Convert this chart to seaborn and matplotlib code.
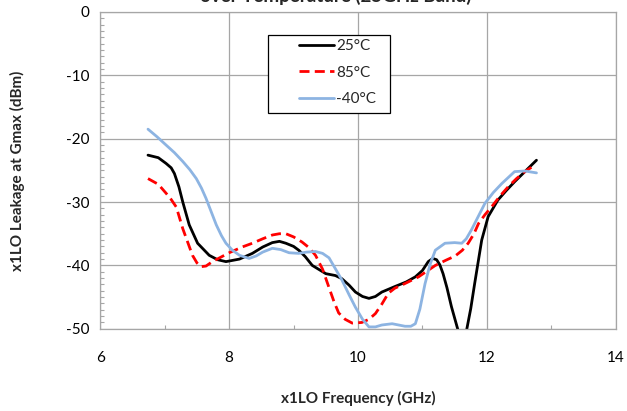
import matplotlib
matplotlib.use("Agg")
import matplotlib.pyplot as plt
import seaborn as sns
import pandas as pd
from matplotlib.ticker import MultipleLocator
from matplotlib.patches import Rectangle

# ---- data ----
freq_25 = [6.74, 6.90, 7.02, 7.10, 7.15, 7.22, 7.28, 7.38, 7.51, 7.69, 7.82, 7.95, 8.16, 8.36,
           8.52, 8.67, 8.78, 8.88, 9.00, 9.08, 9.18, 9.29, 9.50, 9.65, 9.75, 9.86, 9.96, 10.07,
           10.17, 10.27, 10.37, 10.58, 10.75, 10.89, 11.00, 11.09, 11.16, 11.22, 11.27, 11.32,
           11.38, 11.45, 11.56, 11.62, 11.68, 11.75, 11.81, 11.92, 12.02, 12.17, 12.30, 12.43,
           12.60, 12.77]
leak_25 = [-22.6, -23.0, -23.9, -24.6, -25.5, -27.6, -30.0, -33.6, -36.5, -38.4, -39.1, -39.4,
           -39.0, -38.1, -37.1, -36.4, -36.2, -36.5, -37.0, -37.6, -38.6, -40.0, -41.3, -41.6,
           -42.1, -43.1, -44.2, -44.9, -45.2, -44.9, -44.2, -43.3, -42.6, -41.8, -40.8, -39.4,
           -38.9, -39.1, -39.9, -41.3, -43.5, -46.5, -50.5, -52.5, -50.5, -46.8, -42.9, -36.0,
           -32.3, -29.7, -28.2, -26.8, -25.1, -23.4]

freq_85 = [6.74, 6.90, 7.02, 7.10, 7.18, 7.28, 7.43, 7.50, 7.56, 7.64, 7.74, 8.00, 8.20, 8.36,
           8.52, 8.67, 8.78, 8.88, 9.00, 9.13, 9.24, 9.34, 9.45, 9.55, 9.63, 9.70, 9.80, 9.91,
           10.06, 10.17, 10.27, 10.37, 10.47, 10.57, 10.68, 10.94, 11.20, 11.36, 11.51, 11.62,
           11.71, 11.80, 11.87, 11.97, 12.07, 12.20, 12.33, 12.46, 12.59, 12.74]
leak_85 = [-26.3, -27.2, -28.6, -29.6, -30.8, -34.2, -38.4, -39.6, -40.2, -40.1, -39.4, -38.0,
           -37.1, -36.5, -35.8, -35.2, -35.0, -35.0, -35.5, -36.3, -37.2, -38.4, -40.6, -43.5,
           -45.8, -47.5, -48.5, -49.1, -49.0, -48.5, -47.6, -46.1, -44.4, -43.6, -43.1, -41.8,
           -40.0, -39.2, -38.5, -37.6, -36.5, -35.0, -33.4, -32.0, -30.8, -29.1, -27.6, -26.3,
           -25.2, -24.2]

freq_m40 = [6.74, 6.88, 7.02, 7.15, 7.28, 7.39, 7.49, 7.57, 7.64, 7.72, 7.80, 7.88, 7.95, 8.05,
            8.16, 8.31, 8.42, 8.52, 8.67, 8.80, 8.93, 9.08, 9.20, 9.34, 9.45, 9.55, 9.63, 9.75,
            9.86, 9.96, 10.07, 10.17, 10.27, 10.37, 10.53, 10.63, 10.73, 10.82, 10.89, 10.96,
            11.04, 11.12, 11.20, 11.35, 11.50, 11.61, 11.68, 11.76, 11.87, 11.97, 12.10, 12.23,
            12.43, 12.59, 12.77]
leak_m40 = [-18.5, -19.7, -21.0, -22.2, -23.6, -24.9, -26.3, -27.8, -29.4, -31.5, -33.6, -35.3,
            -36.5, -37.6, -38.4, -38.9, -38.5, -37.9, -37.3, -37.5, -38.0, -38.1, -37.9, -37.8,
            -38.1, -38.8, -40.2, -42.3, -44.6, -46.6, -48.5, -49.7, -49.7, -49.4, -49.2, -49.4,
            -49.6, -49.6, -49.2, -46.9, -42.9, -39.8, -37.6, -36.5, -36.4, -36.5, -35.8, -34.4,
            -32.2, -30.2, -28.5, -27.1, -25.2, -25.1, -25.4]

series_names = ["25°C", "85°C", "-40°C"]
colors = {"25°C": "#000000", "85°C": "#FF0000", "-40°C": "#8DB4E2"}

df = pd.concat([
    pd.DataFrame({"f": freq_25, "v": leak_25, "T": "25°C"}),
    pd.DataFrame({"f": freq_85, "v": leak_85, "T": "85°C"}),
    pd.DataFrame({"f": freq_m40, "v": leak_m40, "T": "-40°C"}),
])

sns.set_theme(style="white")
plt.rcParams["font.family"] = ["Lato", "DejaVu Sans"]
plt.rcParams["axes.unicode_minus"] = False

fig = plt.figure(figsize=(6.27, 4.11), dpi=100)
ax = fig.add_axes([0.160, 0.200, 0.822, 0.771])

for name, ls in zip(series_names, ["-", (0, (3.6, 1.9)), "-"]):
    sub = df[df["T"] == name]
    sns.lineplot(data=sub, x="f", y="v", sort=False, ax=ax, color=colors[name],
                 linewidth=2.0, linestyle=ls, label=name, estimator=None)
for ln in ax.lines:
    ln.set_solid_joinstyle("round")
    ln.set_dash_joinstyle("round")

ax.set_xlim(6, 14)
ax.set_ylim(-50, 0)
ax.xaxis.set_major_locator(MultipleLocator(2))
ax.xaxis.set_minor_locator(MultipleLocator(1))
ax.yaxis.set_major_locator(MultipleLocator(10))
ax.yaxis.set_minor_locator(MultipleLocator(1))
ax.grid(True, which="major", color="#A6A6A6", linewidth=0.9)
ax.set_axisbelow(True)
for s in ax.spines.values():
    s.set_color("#A6A6A6")
    s.set_linewidth(0.9)
ax.tick_params(which="major", length=0, labelsize=11, colors="#000000", pad=8)
ax.tick_params(which="minor", direction="in", length=3, color="#A6A6A6", width=0.8,
               left=True, bottom=True)
ax.tick_params(axis="x", pad=16)

ax.set_xlabel("x1LO Frequency (GHz)", fontsize=11, fontweight="bold", labelpad=19)
ax.set_ylabel("x1LO Leakage at Gmax (dBm)", fontsize=11, fontweight="bold", labelpad=29)
fig.text(0.535, 0.988, "over Temperature (25GHz Band)", ha="center", va="bottom",
         fontsize=13.5, fontweight="bold")

ax.add_patch(Rectangle((0.325, 0.681), 0.2366, 0.2464, transform=ax.transAxes,
                       facecolor="white", edgecolor="#000000", linewidth=0.9, zorder=4))
leg = ax.legend(loc="upper left", bbox_to_anchor=(0.385, 0.914), frameon=False,
                fontsize=11, handlelength=2.3, handletextpad=0.15,
                borderpad=0, labelspacing=0.82, borderaxespad=0)
leg.set_zorder(5)

fig.savefig("out.png", dpi=100)
